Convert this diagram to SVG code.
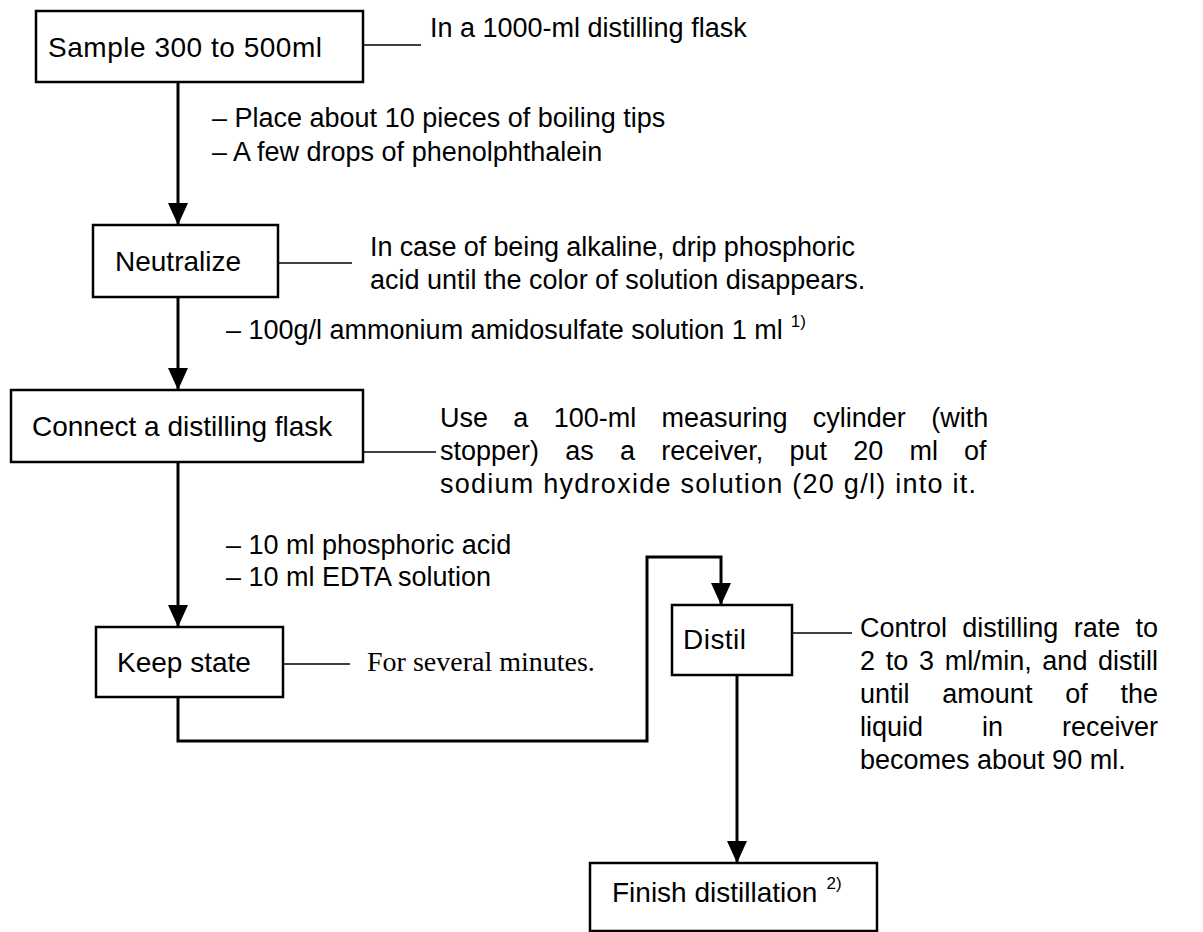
<svg xmlns="http://www.w3.org/2000/svg" width="1203" height="932" viewBox="0 0 1203 932">
  <style>
    .box { fill: #fff; stroke: #000; stroke-width: 2.5; }
    .flow { fill: none; stroke: #000; stroke-width: 3; }
    .lead { fill: none; stroke: #000; stroke-width: 1.5; }
    .t { font-family: "Liberation Sans", Arial, Helvetica, sans-serif; font-size: 28px; fill: #000; }
    .n { font-family: "Liberation Sans", Arial, Helvetica, sans-serif; font-size: 27px; fill: #000; }
    .s { font-family: "Liberation Serif", "Times New Roman", serif; font-size: 28px; fill: #000; }
    .sup { font-size: 17px; }
  </style>
  <defs>
    <marker id="arrow" markerUnits="userSpaceOnUse" markerWidth="22" markerHeight="20" viewBox="0 0 22 20" refX="22" refY="10" orient="auto">
      <path d="M0,0 L22,10 L0,20 Z" fill="#000"/>
    </marker>
  </defs>
  <rect width="1203" height="932" fill="#fff"/>

  <!-- connectors: main flow and leader lines to the notes -->
  <g id="connectors">
    <path class="flow" d="M178,82 V225" marker-end="url(#arrow)"/>
    <path class="flow" d="M178,297 V390" marker-end="url(#arrow)"/>
    <path class="flow" d="M178,462 V627" marker-end="url(#arrow)"/>
    <path class="flow" d="M178,697 V741 H647 V557 H721 V605" marker-end="url(#arrow)"/>
    <path class="flow" d="M737,675 V863" marker-end="url(#arrow)"/>
    <path class="lead" d="M363,45 H421"/>
    <path class="lead" d="M278,263 H352"/>
    <path class="lead" d="M363,452 H436"/>
    <path class="lead" d="M283,664 H350"/>
    <path class="lead" d="M792,633 H852"/>
  </g>

  <!-- step boxes -->
  <g id="sample">
    <rect class="box" x="36" y="11" width="327" height="71"/>
    <text class="t" x="48" y="57" textLength="274" lengthAdjust="spacing">Sample 300 to 500ml</text>
  </g>
  <g id="neutralize">
    <rect class="box" x="93" y="225" width="185" height="72"/>
    <text class="t" x="115" y="271">Neutralize</text>
  </g>
  <g id="connect">
    <rect class="box" x="11" y="390" width="352" height="72"/>
    <text class="t" x="32" y="436">Connect a distilling flask</text>
  </g>
  <g id="keep-state">
    <rect class="box" x="96" y="627" width="187" height="70"/>
    <text class="t" x="117" y="672">Keep state</text>
  </g>
  <g id="distil">
    <rect class="box" x="672" y="605" width="120" height="70"/>
    <text class="t" x="683" y="649" textLength="63" lengthAdjust="spacing">Distil</text>
  </g>
  <g id="finish">
    <rect class="box" x="590" y="863" width="287" height="68"/>
    <text class="t" x="612" y="902">Finish distillation<tspan class="sup" dx="9" dy="-13">2)</tspan></text>
  </g>

  <!-- reagent additions along the flow -->
  <g id="additions">
    <text class="n" x="212" y="127">– Place about 10 pieces of boiling tips</text>
    <text class="n" x="212" y="161">– A few drops of phenolphthalein</text>
    <text class="n" x="226" y="339">– 100g/l ammonium amidosulfate solution 1 ml<tspan class="sup" dx="8" dy="-12">1)</tspan></text>
    <text class="n" x="226" y="554">– 10 ml phosphoric acid</text>
    <text class="n" x="226" y="586">– 10 ml EDTA solution</text>
  </g>

  <!-- side notes (justified blocks use word spacing) -->
  <g id="note-sample">
    <text class="n" x="430" y="37">In a 1000-ml distilling flask</text>
  </g>
  <g id="note-neutralize">
    <text class="n" x="370" y="256" textLength="485" lengthAdjust="spacing">In case of being alkaline, drip phosphoric</text>
    <text class="n" x="370" y="289">acid until the color of solution disappears.</text>
  </g>
  <g id="note-connect">
    <text class="n" x="440" y="427" word-spacing="17.8">Use a 100-ml measuring cylinder (with</text>
    <text class="n" x="440" y="460" word-spacing="18.7">stopper) as a receiver, put 20 ml of</text>
    <text class="n" x="440" y="493" textLength="536" lengthAdjust="spacing">sodium hydroxide solution (20 g/l) into it.</text>
  </g>
  <g id="note-keep-state">
    <text class="s" x="367" y="671">For several minutes.</text>
  </g>
  <g id="note-distil">
    <text class="n" x="860" y="637" word-spacing="7.8">Control distilling rate to</text>
    <text class="n" x="860" y="670" word-spacing="3.2">2 to 3 ml/min, and distill</text>
    <text class="n" x="860" y="703" word-spacing="25.3">until amount of the</text>
    <text class="n" x="860" y="736" word-spacing="51.5">liquid in receiver</text>
    <text class="n" x="860" y="769">becomes about 90 ml.</text>
  </g>
</svg>
